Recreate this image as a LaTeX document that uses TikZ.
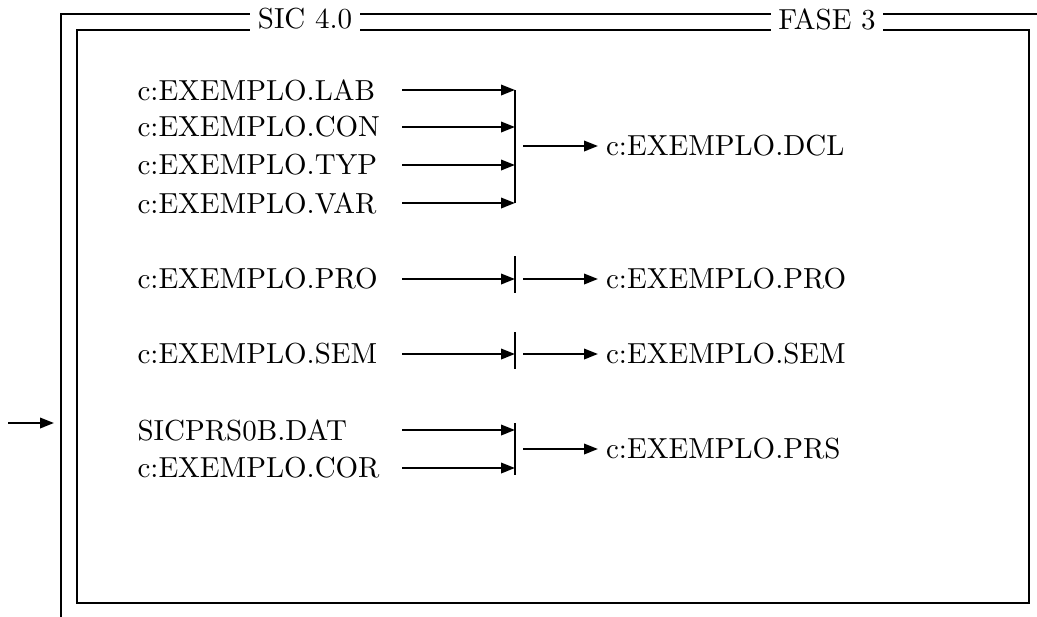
\documentclass[tikz,border=0pt]{standalone}
\usetikzlibrary{arrows.meta}
\begin{document}
\begin{tikzpicture}[x=0.345pt,y=-0.345pt,
  ln/.style={line width=0.7pt},
  arr/.style={ln,-{Triangle[length=4.8pt,width=3.6pt]}},
  file/.style={anchor=west,inner sep=0pt,font=\fontsize{10}{12}\selectfont},
  title/.style={fill=white,inner xsep=2.6pt,inner ysep=1pt,font=\fontsize{10}{12}\selectfont}]
\useasboundingbox (0,0) rectangle (1037,617);

% outer and inner frames
\draw[ln] (61,617) -- (61,14) -- (1037,14);
\draw[ln] (77,30) rectangle (1029,603);
\node[title] (sic) at (305,19) {SIC 4.0};
\node[title] (fase) at (827,19) {FASE 3};

% entry arrow
\coordinate (e0) at (8,423);
\coordinate (e1) at (54,423);
\draw[arr] (e0) -- (e1);

% declaration files
\foreach \n/\t/\y in {1/LAB/90,2/CON/127,3/TYP/165,4/VAR/203}{
  \node[file] (in\n) at (137,\y) {c:EXEMPLO.\t};
  \coordinate (s\n) at (402,\y);
  \coordinate (j\n) at (515,\y);
  \draw[arr] (s\n) -- (j\n);
}
\draw[ln] (j1) -- (j4);
\coordinate (o1) at (523,146);
\node[file,inner xsep=2.6pt] (dcl) at (598,146) {c:EXEMPLO.DCL};
\draw[arr] (o1) -- (dcl.west);

% procedures
\node[file] (pro) at (137,279) {c:EXEMPLO.PRO};
\coordinate (sp) at (402,279);
\coordinate (jp) at (515,279);
\coordinate (bpa) at (515,256);
\coordinate (bpb) at (515,293);
\draw[arr] (sp) -- (jp);
\draw[ln] (bpa) -- (bpb);
\coordinate (op) at (523,279);
\node[file,inner xsep=2.6pt] (proout) at (598,279) {c:EXEMPLO.PRO};
\draw[arr] (op) -- (proout.west);

% semantics
\node[file] (sem) at (137,354) {c:EXEMPLO.SEM};
\coordinate (ss) at (402,354);
\coordinate (js) at (515,354);
\coordinate (bsa) at (515,332);
\coordinate (bsb) at (515,369);
\draw[arr] (ss) -- (js);
\draw[ln] (bsa) -- (bsb);
\coordinate (os) at (523,354);
\node[file,inner xsep=2.6pt] (semout) at (598,354) {c:EXEMPLO.SEM};
\draw[arr] (os) -- (semout.west);

% parser
\node[file] (dat) at (137,430) {SICPRS0B.DAT};
\node[file] (cor) at (137,468) {c:EXEMPLO.COR};
\coordinate (sd) at (402,430);
\coordinate (jd) at (515,430);
\coordinate (sc) at (402,468);
\coordinate (jc) at (515,468);
\coordinate (bra) at (515,423);
\coordinate (brb) at (515,475);
\draw[arr] (sd) -- (jd);
\draw[arr] (sc) -- (jc);
\draw[ln] (bra) -- (brb);
\coordinate (or) at (523,449);
\node[file,inner xsep=2.6pt] (prs) at (598,449) {c:EXEMPLO.PRS};
\draw[arr] (or) -- (prs.west);
\end{tikzpicture}
\end{document}
